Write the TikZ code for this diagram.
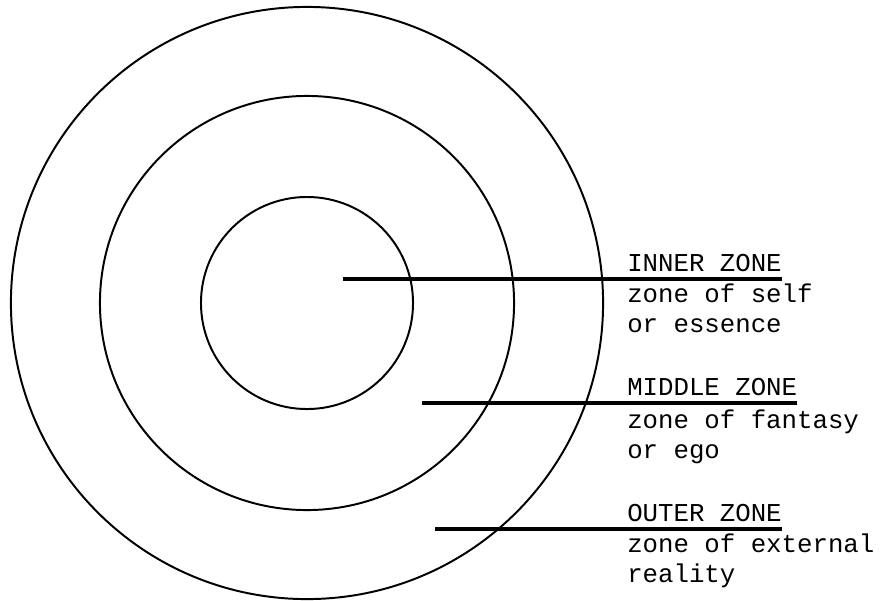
\documentclass[tikz,border=0pt]{standalone}
\usepackage{fontspec}
\setmonofont{Liberation Mono}
\usetikzlibrary{positioning,calc}

\begin{document}
\begin{tikzpicture}[x=0.025cm,y=-0.025cm,
    ring/.style={circle,draw,line width=1.4pt,minimum size=#1,inner sep=0pt},
    zonehead/.style={anchor=south west,inner xsep=0pt,inner ysep=5pt,font=\ttfamily\fontsize{18.3}{21.3}\selectfont},
    zonetext/.style={anchor=base west,inner sep=0pt,align=left,font=\ttfamily\fontsize{18.3}{21.3}\selectfont},
    pointer/.style={line width=2.2pt}]

\useasboundingbox (0,0) rectangle (894,600);

% the three zones
\node[ring=14.8cm] (outer) at (307,303) {};
\node[ring=10.35cm] (middle) at (307,303) {};
\node[ring=5.3cm] (inner) at (307,303) {};

% labels (base is the last line)
\node[zonehead] (innerhead) at (627,279) {INNER ZONE};
\node[zonetext] (innertext) at (627,332) {zone of self\\or essence};

\node[zonehead] (middlehead) at (627,403) {MIDDLE ZONE};
\node[zonetext] (middletext) at (627,458) {zone of fantasy\\or ego};

\node[zonehead] (outerhead) at (627,529) {OUTER ZONE};
\node[zonetext] (outertext) at (627,582) {zone of external\\reality};

% pointers
\coordinate (innerend) at (343,279);
\coordinate (middleend) at (422,403);
\coordinate (outerend) at (435,529);

\draw[pointer] (innerend) -- (innerhead.south east);
\draw[pointer] (middleend) -- (middlehead.south east);
\draw[pointer] (outerend) -- (outerhead.south east);

\end{tikzpicture}
\end{document}
